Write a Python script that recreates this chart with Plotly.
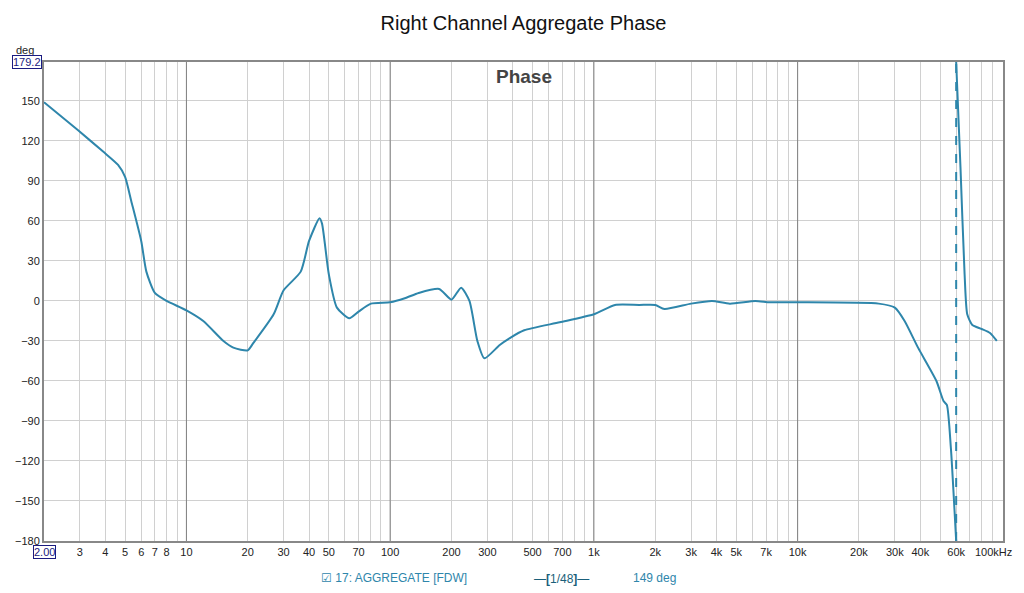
import plotly.graph_objects as go

freq_a = [2.0, 2.94, 3.9, 4.62, 5, 5.36, 6, 6.36, 7, 8, 10, 12.1, 15.2, 17, 20, 21.2, 26.8, 30, 36.4, 40, 45, 46.3,
          50, 54.8, 63, 70, 80.5, 100, 118, 138, 174, 200, 223, 245, 268, 290, 345, 385, 455, 680, 1000, 1270,
          1670, 2000, 2220, 3000, 3800, 4650, 6200, 7300, 10000, 25000, 30000, 33500, 39000, 48000, 52000,
          54000, 56500, 60000]
phase_a = [149, 128, 112, 102, 93, 75, 45, 22, 6, 0, -7, -15, -30, -35, -37, -32, -10, 8, 22, 45, 62, 58,
           20, -5, -13, -8, -2, -1, 2, 6, 9, 1, 10, 0, -30, -43, -33, -28, -22, -16, -10, -3,
           -3, -3, -6, -2, 0, -2, 0, -1, -1, -2, -5, -15, -35, -60, -75, -78, -110, -180]
freq_b = [60000, 63000, 66000, 68000, 72000, 80000, 88000, 95000]
phase_b = [179.2, 100, 20, -10, -18, -21, -24, -30]
wrap_f = [60000, 60000]
wrap_p = [-180, 179.2]

label_vals = [3, 4, 5, 6, 7, 8, 10, 20, 30, 40, 50, 70, 100, 200, 300, 500, 700, 1000, 2000, 3000, 4000,
              5000, 7000, 10000, 20000, 30000, 40000, 60000]
label_text = ["3", "4", "5", "6", "7", "8", "10", "20", "30", "40", "50", "70", "100", "200", "300", "500",
              "700", "1k", "2k", "3k", "4k", "5k", "7k", "10k", "20k", "30k", "40k", "60k"]
minor_vals = [m * 10 ** d for d in range(0, 5) for m in range(1, 10) if 2 <= m * 10 ** d <= 100000]
decades = [10, 100, 1000, 10000]
y_ticks = list(range(-180, 151, 30))

col = "#2e86ab"
fig = go.Figure()
dx, dy = [], []
for d in decades:
    dx += [d, d, None]
    dy += [-180, 179.2, None]
fig.add_trace(go.Scatter(x=dx, y=dy, mode="lines", line=dict(color="#808080", width=1), hoverinfo="skip"))
fig.add_trace(go.Scatter(x=freq_a, y=phase_a, mode="lines", line=dict(color=col, width=2, shape="spline", smoothing=0.6)))
fig.add_trace(go.Scatter(x=freq_b, y=phase_b, mode="lines", line=dict(color=col, width=2, shape="spline", smoothing=0.6)))
fig.add_trace(go.Scatter(x=wrap_f, y=wrap_p, mode="lines", line=dict(color=col, width=2, dash="dash")))

W, H = 1024, 593
S = 7  # page offset observed
L, R, T, B = 43 - S, 22 + S, 61 - S, 53 + S
fig.update_layout(
    width=W, height=H, showlegend=False, plot_bgcolor="white", paper_bgcolor="white",
    margin=dict(l=L, r=R, t=T, b=B, autoexpand=False),
    font=dict(family="Liberation Sans, Arial", size=11, color="#222"),
    title=dict(text="Right Channel Aggregate Phase", x=0.5, xref="paper", y=1 - (22 - S) / H, yanchor="middle",
               xanchor="center", font=dict(size=20, color="#111")),
    xaxis=dict(type="log", range=[0.30103, 5.008], tickvals=label_vals, ticktext=label_text, automargin=False,
               showgrid=True, gridcolor="#d0d0d0", ticks="", showline=True, linecolor="#888", mirror=True,
               linewidth=2, minor=dict(tickvals=minor_vals, showgrid=True, gridcolor="#d0d0d0"),
               tickfont=dict(size=11)),
    yaxis=dict(range=[-180, 179.2], tickvals=y_ticks, showgrid=True, gridcolor="#d0d0d0", ticks="",
               automargin=False, showline=True, linecolor="#888", mirror=True, linewidth=2, zeroline=False,
               tickfont=dict(size=11)),
)
pw, ph = W - L - R, H - T - B
def px(x): return (x - S - L) / pw
def py(y): return (H - B - (y - S)) / ph
fig.add_annotation(text="<b>Phase</b>", x=px(523), y=py(76), xref="paper", yref="paper", showarrow=False,
                   font=dict(size=19, color="#444"), xanchor="center", yanchor="middle")
fig.add_annotation(text="deg", x=px(24), y=py(49), xref="paper", yref="paper", showarrow=False,
                   xanchor="center", yanchor="middle", font=dict(size=11))
fig.add_annotation(text="100kHz", x=px(1013), y=py(551), xref="paper", yref="paper", showarrow=False,
                   xanchor="right", yanchor="middle", font=dict(size=11))
fig.add_annotation(text="179.2", x=px(41), y=py(61), xref="paper", yref="paper", showarrow=False, xanchor="right",
                   yanchor="middle", bordercolor="#1a1a80", borderwidth=1, borderpad=0, bgcolor="white",
                   font=dict(size=11, color="#1a1a80"))
fig.add_annotation(text="2.00", x=px(43), y=py(551), xref="paper", yref="paper", showarrow=False,
                   xanchor="center", yanchor="middle", bordercolor="#1a1a80", borderwidth=1, borderpad=0,
                   bgcolor="white", font=dict(size=11, color="#1a1a80"))
LY = 586
fig.add_annotation(text="☑ 17: AGGREGATE [FDW]", x=px(318), y=py(LY), xref="paper", yref="paper",
                   showarrow=False, xanchor="left", font=dict(size=12, color=col))
fig.add_annotation(text="—<b>[</b>1/48<b>]</b>—", x=px(560), y=py(LY + 1), xref="paper", yref="paper",
                   showarrow=False, xanchor="center", font=dict(size=12, color="#1a5f7a"))
fig.add_annotation(text="149 deg", x=px(630), y=py(LY), xref="paper", yref="paper",
                   showarrow=False, xanchor="left", font=dict(size=12, color=col))
fig.write_html("out.html")
